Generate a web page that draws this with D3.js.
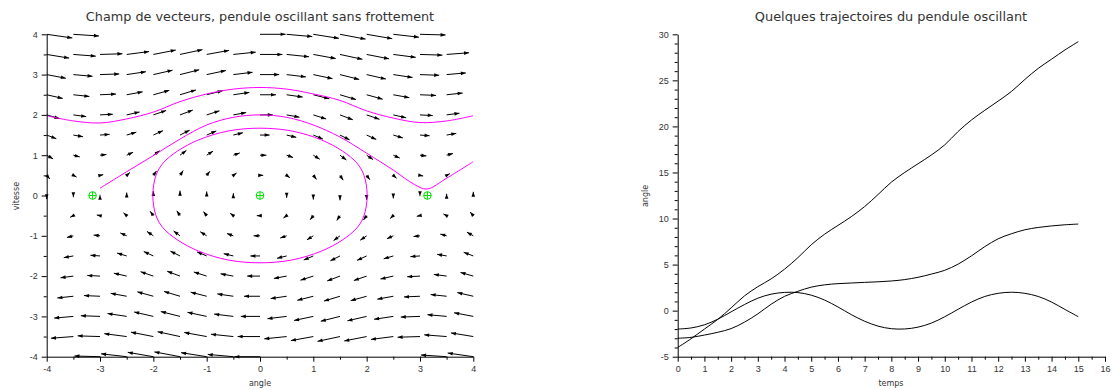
<!DOCTYPE html>
<html>
<head>
<meta charset="utf-8">
<script src="https://cdn.jsdelivr.net/npm/d3@7"></script>
<style>
  body { margin: 0; background: #fff; }
  svg { display: block; font-family: "DejaVu Sans", sans-serif; }
</style>
</head>
<body>
<svg id="chart" width="1112" height="390"></svg>
<script>
// ---- left panel : vector field of the pendulum ----
const gridAngles = [-4, -3.5, -3, -2.5, -2, -1.5, -1, -0.5, 0, 0.5, 1, 1.5, 2, 2.5, 3, 3.5, 4];
const gridSpeeds = [-4, -3.5, -3, -2.5, -2, -1.5, -1, -0.5, 0, 0.5, 1, 1.5, 2, 2.5, 3, 3.5, 4];
// horizontal component of the arrows, one value per row
const rowAngleRate = [-4, -3.5, -3, -2.5, -2, -1.5, -1, -0.5, 0, 0.5, 1, 1.5, 2, 2.5, 3, 3.5, 4];
// vertical component of the arrows, one value per column
const colSpeedRate = [-0.757, -0.351, 0.141, 0.598, 0.909, 0.997, 0.841, 0.479, 0,
  -0.479, -0.841, -0.997, -0.909, -0.598, -0.141, 0.351, 0.757];
const equilibria = [-3.14, 0, 3.14];

// phase portraits [angle, vitesse]
const orbitRotating = [[-4, 1.98], [-3.5, 1.85], [-3, 1.8], [-2.5, 1.9], [-2, 2.07], [-1.5, 2.33],
  [-1, 2.52], [-0.5, 2.64], [0, 2.68], [0.5, 2.64], [1, 2.52], [1.5, 2.36], [2, 2.1],
  [2.5, 1.92], [3, 1.81], [3.5, 1.85], [4, 1.98]];
const orbitSeparatrix = [[-3, 0.18], [-2.5, 0.59], [-2, 0.99], [-1.5, 1.4], [-1, 1.75],
  [-0.5, 1.94], [0, 2.0], [0.5, 1.94], [1, 1.75], [1.5, 1.45], [2, 1.05], [2.5, 0.63],
  [2.9, 0.27], [3.13, 0.16], [3.5, 0.43], [4, 0.84]];
const orbitClosed = [[-2.01, 0], [-1.95, 0.5], [-1.82, 0.8], [-1.55, 1.1], [-1.15, 1.38],
  [-0.6, 1.6], [0, 1.67], [0.6, 1.6], [1.15, 1.38], [1.55, 1.1], [1.82, 0.8], [1.95, 0.5],
  [2.01, 0], [1.95, -0.5], [1.82, -0.8], [1.55, -1.1], [1.15, -1.38], [0.6, -1.6],
  [0, -1.67], [-0.6, -1.6], [-1.15, -1.38], [-1.55, -1.1], [-1.82, -0.8], [-1.95, -0.5]];

const fieldTicks = [-4, -3, -2, -1, 0, 1, 2, 3, 4];
const fieldMinor = [-3.5, -2.5, -1.5, -0.5, 0.5, 1.5, 2.5, 3.5];

// ---- right panel : angle vs temps ----
const temps = [0, 0.5, 1, 1.5, 2, 2.5, 3, 3.5, 4, 4.5, 5, 5.5, 6, 6.5, 7, 7.5, 8, 8.5, 9, 9.5,
  10, 10.5, 11, 11.5, 12, 12.5, 13, 13.5, 14, 14.5, 15];
const angleRotating = [-4, -3.05, -2, -0.95, 0.3, 1.6, 2.6, 3.45, 4.5, 5.75, 7.15, 8.3, 9.25,
  10.2, 11.3, 12.6, 13.95, 15, 15.95, 16.9, 18, 19.45, 20.7, 21.75, 22.75, 23.8, 25.1, 26.3,
  27.3, 28.3, 29.2];
const angleSeparatrix = [-3, -2.9, -2.65, -2.35, -1.95, -1.25, -0.35, 0.7, 1.55, 2.1, 2.55, 2.8,
  2.93, 3, 3.07, 3.13, 3.22, 3.37, 3.62, 3.97, 4.38, 5.05, 5.95, 6.95, 7.8, 8.35, 8.78, 9.03,
  9.2, 9.32, 9.4];
const angleOscillating = [-2, -1.88, -1.54, -0.93, -0.13, 0.66, 1.35, 1.79, 1.98, 1.96, 1.68,
  1.15, 0.4, -0.43, -1.15, -1.68, -1.96, -1.99, -1.79, -1.35, -0.66, 0.15, 0.93, 1.54, 1.88,
  2, 1.88, 1.54, 0.93, 0.13, -0.66];

const timeTicks = [0, 1, 2, 3, 4, 5, 6, 7, 8, 9, 10, 11, 12, 13, 14, 15, 16];
const timeMinor = [0.5, 1.5, 2.5, 3.5, 4.5, 5.5, 6.5, 7.5, 8.5, 9.5, 10.5, 11.5, 12.5, 13.5, 14.5, 15.5];
const angleTicks = [-5, 0, 5, 10, 15, 20, 25, 30];
const angleMinor = d3.range(-4, 30).filter(v => v % 5 !== 0);

const svg = d3.select('#chart');
const textColor = '#333';

function styleAxis(g) {
  g.select('.domain').attr('stroke', '#000');
  g.selectAll('.tick line').attr('stroke', '#000');
  g.selectAll('.tick text').attr('fill', textColor).attr('font-size', 9);
}

// ================= left panel =================
const xL = d3.scaleLinear().domain([-4, 4]).range([46.7, 473.3]);
const yL = d3.scaleLinear().domain([-4, 4]).range([356.7, 34.3]);

const arrowScale = 0.12;
const arrows = [];
gridSpeeds.forEach((s, i) => {
  gridAngles.forEach((a, j) => {
    const dx = rowAngleRate[i] * arrowScale;
    const dy = colSpeedRate[j] * arrowScale;
    if (dx === 0 && dy === 0) return;
    const ex = a + dx, ey = s + dy;
    if (ex < -4.0001 || ex > 4.0001 || ey < -4.0001 || ey > 4.0001) return;
    arrows.push({x0: a, y0: s, x1: ex, y1: ey});
  });
});

const field = svg.append('g');
field.selectAll('line')
  .data(arrows)
  .join('line')
  .attr('x1', d => xL(d.x0)).attr('y1', d => yL(d.y0))
  .attr('x2', d => xL(d.x1)).attr('y2', d => yL(d.y1))
  .attr('stroke', '#000')
  .attr('stroke-width', 1);

field.selectAll('path')
  .data(arrows)
  .join('path')
  .attr('fill', '#000')
  .attr('d', d => {
    const px = xL(d.x1), py = yL(d.y1);
    const vx = px - xL(d.x0), vy = py - yL(d.y0);
    const len = Math.hypot(vx, vy);
    const ux = vx / len, uy = vy / len;
    const hl = 5, hw = 1.8;
    const bx = px - ux * hl, by = py - uy * hl;
    return `M${px},${py}L${bx - uy * hw},${by + ux * hw}L${bx + uy * hw},${by - ux * hw}Z`;
  });

svg.append('clipPath').attr('id', 'clipL')
  .append('rect').attr('x', xL(-4)).attr('y', yL(4))
  .attr('width', xL(4) - xL(-4)).attr('height', yL(-4) - yL(4));

const phaseLine = d3.line().x(d => xL(d[0])).y(d => yL(d[1])).curve(d3.curveCatmullRom);
const phase = svg.append('g').attr('clip-path', 'url(#clipL)');
[orbitRotating, orbitSeparatrix].forEach(orbit => {
  phase.append('path')
    .datum(orbit)
    .attr('fill', 'none')
    .attr('stroke', '#ff00ff')
    .attr('stroke-width', 1)
    .attr('d', phaseLine);
});
phase.append('path')
  .datum(orbitClosed)
  .attr('fill', 'none')
  .attr('stroke', '#ff00ff')
  .attr('stroke-width', 1)
  .attr('d', d3.line().x(d => xL(d[0])).y(d => yL(d[1])).curve(d3.curveCatmullRomClosed));

// equilibrium points
const eq = svg.append('g').attr('stroke', '#00e000').attr('fill', 'none').attr('stroke-width', 1);
equilibria.forEach(a => {
  const cx = xL(a), cy = yL(0);
  eq.append('circle').attr('cx', cx).attr('cy', cy).attr('r', 3.8);
  eq.append('path').attr('d', `M${cx - 3.8},${cy}H${cx + 3.8}M${cx},${cy - 3.8}V${cy + 3.8}`);
});

// axes left panel
svg.append('g')
  .attr('transform', `translate(${xL(-4)},0)`)
  .call(d3.axisLeft(yL).tickValues(fieldTicks).tickSize(5).tickSizeOuter(0)
    .tickPadding(4).tickFormat(d => String(d)))
  .call(styleAxis);
svg.append('g')
  .attr('transform', `translate(${xL(-4)},0)`)
  .call(d3.axisLeft(yL).tickValues(fieldMinor).tickSize(3).tickSizeOuter(0).tickFormat(''))
  .call(g => g.select('.domain').remove())
  .call(styleAxis);
svg.append('g')
  .attr('transform', `translate(0,${yL(-4)})`)
  .call(d3.axisBottom(xL).tickValues(fieldTicks).tickSize(5).tickSizeOuter(0)
    .tickPadding(4).tickFormat(d => String(d)))
  .call(styleAxis);
svg.append('g')
  .attr('transform', `translate(0,${yL(-4)})`)
  .call(d3.axisBottom(xL).tickValues(fieldMinor).tickSize(3).tickSizeOuter(0).tickFormat(''))
  .call(g => g.select('.domain').remove())
  .call(styleAxis);

svg.append('text')
  .attr('x', 260).attr('y', 21)
  .attr('text-anchor', 'middle')
  .attr('font-size', 12.8)
  .attr('fill', textColor)
  .text('Champ de vecteurs, pendule oscillant sans frottement');
svg.append('text')
  .attr('transform', 'translate(19,196) rotate(-90)')
  .attr('text-anchor', 'middle')
  .attr('font-size', 8)
  .attr('fill', textColor)
  .text('vitesse');
svg.append('text')
  .attr('x', 260).attr('y', 386)
  .attr('text-anchor', 'middle')
  .attr('font-size', 8)
  .attr('fill', textColor)
  .text('angle');

// ================= right panel =================
const xR = d3.scaleLinear().domain([0, 16]).range([677.7, 1105]);
const yR = d3.scaleLinear().domain([-5, 30]).range([356.7, 34.3]);

const trajLine = d3.line()
  .x((d, i) => xR(temps[i]))
  .y(d => yR(d))
  .curve(d3.curveCatmullRom);

[angleRotating, angleSeparatrix, angleOscillating].forEach(series => {
  svg.append('path')
    .datum(series)
    .attr('fill', 'none')
    .attr('stroke', '#000')
    .attr('stroke-width', 1)
    .attr('d', trajLine);
});

svg.append('g')
  .attr('transform', `translate(${xR(0)},0)`)
  .call(d3.axisLeft(yR).tickValues(angleTicks).tickSize(5).tickSizeOuter(0)
    .tickPadding(4).tickFormat(d => String(d)))
  .call(styleAxis);
svg.append('g')
  .attr('transform', `translate(${xR(0)},0)`)
  .call(d3.axisLeft(yR).tickValues(angleMinor).tickSize(3).tickSizeOuter(0).tickFormat(''))
  .call(g => g.select('.domain').remove())
  .call(styleAxis);
svg.append('g')
  .attr('transform', `translate(0,${yR(-5)})`)
  .call(d3.axisBottom(xR).tickValues(timeTicks).tickSize(5).tickSizeOuter(0)
    .tickPadding(4).tickFormat(d => String(d)))
  .call(styleAxis);
svg.append('g')
  .attr('transform', `translate(0,${yR(-5)})`)
  .call(d3.axisBottom(xR).tickValues(timeMinor).tickSize(3).tickSizeOuter(0).tickFormat(''))
  .call(g => g.select('.domain').remove())
  .call(styleAxis);

svg.append('text')
  .attr('x', 891).attr('y', 21)
  .attr('text-anchor', 'middle')
  .attr('font-size', 12.9)
  .attr('fill', textColor)
  .text('Quelques trajectoires du pendule oscillant');
svg.append('text')
  .attr('transform', 'translate(648,196) rotate(-90)')
  .attr('text-anchor', 'middle')
  .attr('font-size', 8)
  .attr('fill', textColor)
  .text('angle');
svg.append('text')
  .attr('x', 891).attr('y', 386)
  .attr('text-anchor', 'middle')
  .attr('font-size', 8)
  .attr('fill', textColor)
  .text('temps');
</script>
</body>
</html>
